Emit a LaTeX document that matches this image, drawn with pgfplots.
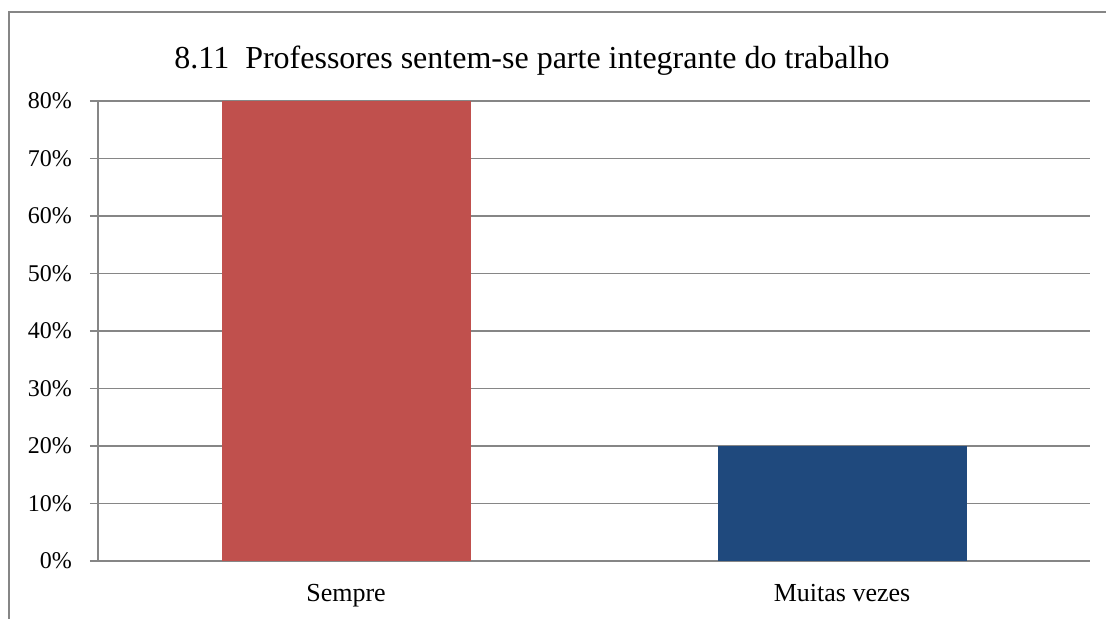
\documentclass[border=0pt]{standalone}
\usepackage{pgfplots}
\pgfplotsset{compat=1.18}
\usepackage{fontspec}
\setmainfont{Liberation Serif}
\definecolor{gridgray}{HTML}{868686}
\definecolor{barred}{HTML}{C0504D}
\definecolor{barblue}{HTML}{1F497D}
\begin{document}
\begin{tikzpicture}
\path[use as bounding box] (0,0) rectangle (553pt,309.5pt);
\begin{scope}
\clip (0,0) rectangle (553pt,309.5pt);
\draw[gridgray, line width=0.75pt] (4.5pt,303.5pt) rectangle (560pt,-5pt);
\end{scope}
\begin{axis}[
  at={(49pt,29pt)}, anchor=south west,
  scale only axis, width=496pt, height=230pt,
  xmin=-0.5, xmax=1.5, ymin=0, ymax=80,
  axis lines=left, axis line style={-, gridgray, line width=0.75pt},
  ytick={0,10,...,80},
  yticklabel={\pgfmathprintnumber{\tick}\%},
  ymajorgrids, grid style={gridgray, line width=0.75pt},
  tick align=outside, major tick length=4pt,
  tick style={gridgray, line width=0.75pt},
  xtick={0,1}, xticklabels={Sempre, Muitas vezes},
  x tick style={draw=none},
  extra x ticks={-0.5,0.5,1.5}, extra x tick labels={},
  extra x tick style={tick style={gridgray, line width=0.75pt}, major tick length=4pt},
  yticklabel style={font=\fontsize{12}{14}\selectfont, xshift=-5.5pt},
  xticklabel style={font=\fontsize{13}{15}\selectfont, yshift=-4pt},
  /pgf/number format/assume math mode=true,
  title={8.11\ \ Professores sentem-se parte integrante do trabalho},
  title style={at={(0.4375,1.061)}, anchor=center, font=\fontsize{16}{19}\selectfont},
  ybar, bar width=124.5pt, bar shift=0pt,
]
\addplot[fill=barred, draw=none] coordinates {(0,80)};
\addplot[fill=barblue, draw=none] coordinates {(1,20)};
\end{axis}
\end{tikzpicture}
\end{document}
